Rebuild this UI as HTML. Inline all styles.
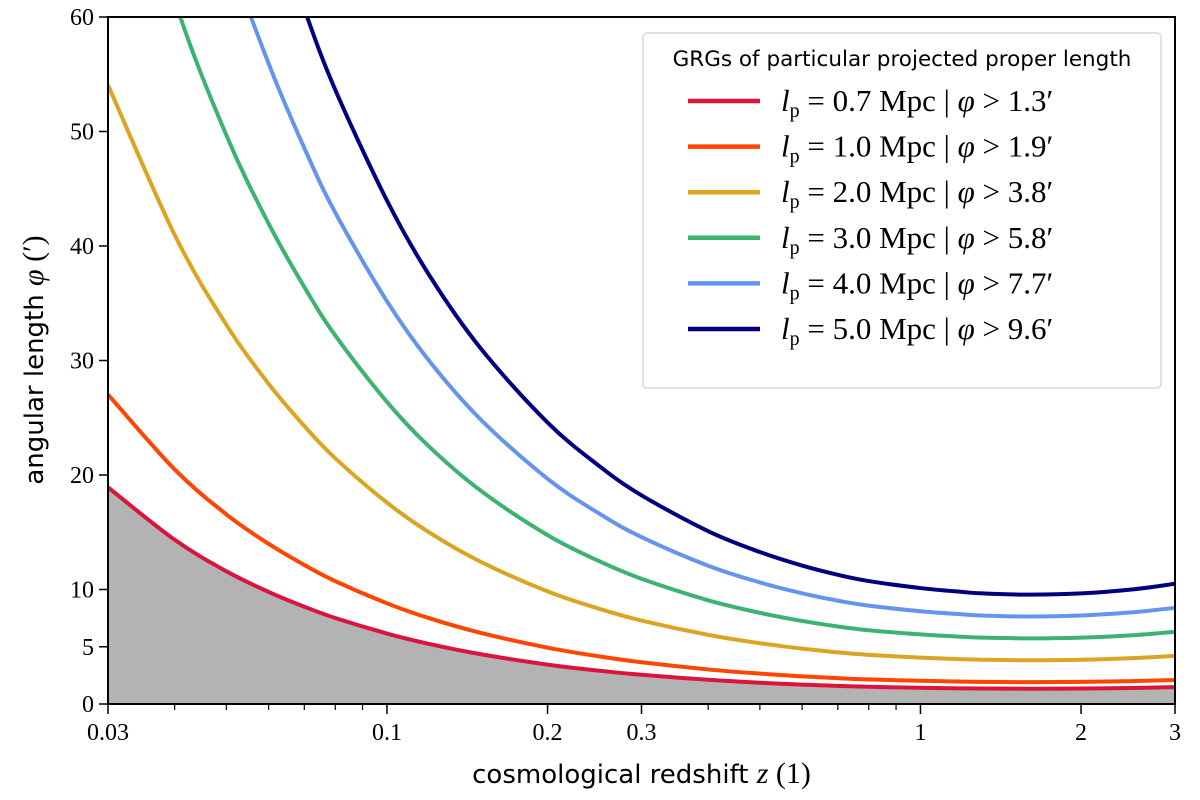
<!DOCTYPE html>
<html><head><meta charset="utf-8"><style>
body{margin:0;background:#fff}
svg{display:block}
.tk{font-family:"Liberation Serif",serif;font-size:24px}
.lab{font-family:"DejaVu Sans","Liberation Sans",sans-serif;font-size:26px}
.leg{font-family:"Liberation Serif",serif;font-size:31px}
</style></head><body>
<svg id="chart" width="1200" height="800" xmlns="http://www.w3.org/2000/svg"></svg>
<script>
// redshift samples and angular diameter distance (Mpc)
const zs = [0.03,0.04,0.05,0.06,0.07,0.08,0.1,0.12,0.15,0.2,0.25,0.3,0.4,0.5,0.6,0.7,0.8,1.0,1.2,1.3,1.6,2.0,2.5,3.0];
const da = [127.2,167.8,207.6,245.8,283.2,320.4,390.9,458.9,553.9,699.2,827,943,1138.6,1295,1422,1523.5,1601,1697.5,1757,1778,1800,1780,1717,1637];
const lp = [0.7,1.0,2.0,3.0,4.0,5.0];
const minPhi = [1.3,1.9,3.8,5.8,7.7,9.6];
const colors = ["#dc143c","#ff4500","#daa520","#3cb371","#6495ed","#000080"];
const xTicks = [0.03,0.1,0.2,0.3,1,2,3];
const xTickLabels = ["0.03","0.1","0.2","0.3","1","2","3"];
const xMinor = [0.04,0.05,0.06,0.07,0.08,0.09,0.4,0.5,0.6,0.7,0.8,0.9];
const yTicks = [0,5,10,20,30,40,50,60];

const svg = document.getElementById('chart');
const NS = "http://www.w3.org/2000/svg";
const X0=108,X1=1175,Y0=704,Y1=17;
const lx0=Math.log10(0.03),lx1=Math.log10(3);
function sx(z){return X0+(Math.log10(z)-lx0)/(lx1-lx0)*(X1-X0);}
function sy(v){return Y0-(v/60)*(Y0-Y1);}
function el(tag,attrs,parent){const e=document.createElementNS(NS,tag);for(const k in attrs)e.setAttribute(k,attrs[k]);(parent||svg).appendChild(e);return e;}

const defs=el('defs',{});
const cp=el('clipPath',{id:'clip'},defs);
el('rect',{x:X0,y:Y1,width:X1-X0,height:Y0-Y1},cp);
const plot=el('g',{'clip-path':'url(#clip)'});



function phi(l,i){return l/da[i]*3437.75;}
function pts(l){return zs.map((z,i)=>[sx(z),sy(phi(l,i))]);}
function smooth(p){
  let d="M"+p[0][0].toFixed(2)+","+p[0][1].toFixed(2);
  for(let i=0;i<p.length-1;i++){
    const p0=p[i-1]||p[i],p1=p[i],p2=p[i+1],p3=p[i+2]||p[i+1];
    const c1=[p1[0]+(p2[0]-p0[0])/6,p1[1]+(p2[1]-p0[1])/6];
    const c2=[p2[0]-(p3[0]-p1[0])/6,p2[1]-(p3[1]-p1[1])/6];
    d+=" C"+c1[0].toFixed(2)+","+c1[1].toFixed(2)+" "+c2[0].toFixed(2)+","+c2[1].toFixed(2)+" "+p2[0].toFixed(2)+","+p2[1].toFixed(2);
  }
  return d;
}
const p0=pts(lp[0]);
const fill=el('path',{d:smooth(p0)+" L"+X1+","+Y0+" L"+X0+","+Y0+" Z",fill:"#b3b3b3"},plot);


lp.forEach((l,k)=>{
  const c=el('path',{d:smooth(pts(l)),fill:"none",stroke:colors[k],'stroke-width':4,'stroke-linejoin':'round'},plot);
  
  
});
const fr=el('rect',{x:X0,y:Y1,width:X1-X0,height:Y0-Y1,fill:"none",stroke:"#000",'stroke-width':2});


xTicks.forEach((t,i)=>{
  const x=sx(t);
  el('line',{x1:x,x2:x,y1:Y0,y2:Y0+10,stroke:"#000",'stroke-width':1.5});
  const tx=el('text',{x:x,y:Y0+36,'text-anchor':'middle',class:'tk'});
  tx.textContent=xTickLabels[i];
  
  
});
xMinor.forEach(t=>{const x=sx(t);el('line',{x1:x,x2:x,y1:Y0,y2:Y0+6,stroke:"#000",'stroke-width':1.2});});
yTicks.forEach(t=>{
  const y=sy(t);
  el('line',{x1:X0-9,x2:X0,y1:y,y2:y,stroke:"#000",'stroke-width':1.5});
  const tx=el('text',{x:X0-14,y:y+8,'text-anchor':'end',class:'tk'});
  tx.textContent=String(t);
  
  
});
const xt=el('text',{x:(X0+X1)/2,y:783,'text-anchor':'middle',class:'lab'});
xt.innerHTML='cosmological redshift <tspan font-family="Liberation Serif" font-style="italic" font-size="30">z</tspan><tspan font-family="Liberation Serif" font-size="30">  (1)</tspan>';


const yt=el('text',{x:0,y:0,'text-anchor':'middle',class:'lab',transform:'translate(43,360) rotate(-90)'});
yt.innerHTML='angular length <tspan font-family="Liberation Serif" font-style="italic" font-size="30">φ</tspan><tspan font-family="Liberation Serif" font-size="30">  (′)</tspan>';


const lg=el('g',{});


el('rect',{x:643,y:33,width:518,height:355,rx:4,fill:"#fff",stroke:"#d9d9d9",'stroke-width':1.5},lg);
const lt=el('text',{x:902,y:66,'text-anchor':'middle',class:'lab'},lg);
lt.setAttribute('style','font-size:21.5px');
lt.textContent='GRGs of particular projected proper length';


lp.forEach((l,k)=>{
  const y=101+k*45.6;
  const g=el('g',{},lg);
  
  
  el('line',{x1:688,x2:760,y1:y,y2:y,stroke:colors[k],'stroke-width':4.5},g);
  const t=el('text',{x:781,y:y+10,class:'leg'},g);
  t.innerHTML='<tspan font-style="italic">l</tspan><tspan font-size="20" dy="6">p</tspan><tspan dy="-6"> = '+l.toFixed(1)+'  Mpc  |  </tspan><tspan font-style="italic">φ</tspan><tspan> &gt; '+minPhi[k].toFixed(1)+'′</tspan>';
});
</script>
</body></html>
